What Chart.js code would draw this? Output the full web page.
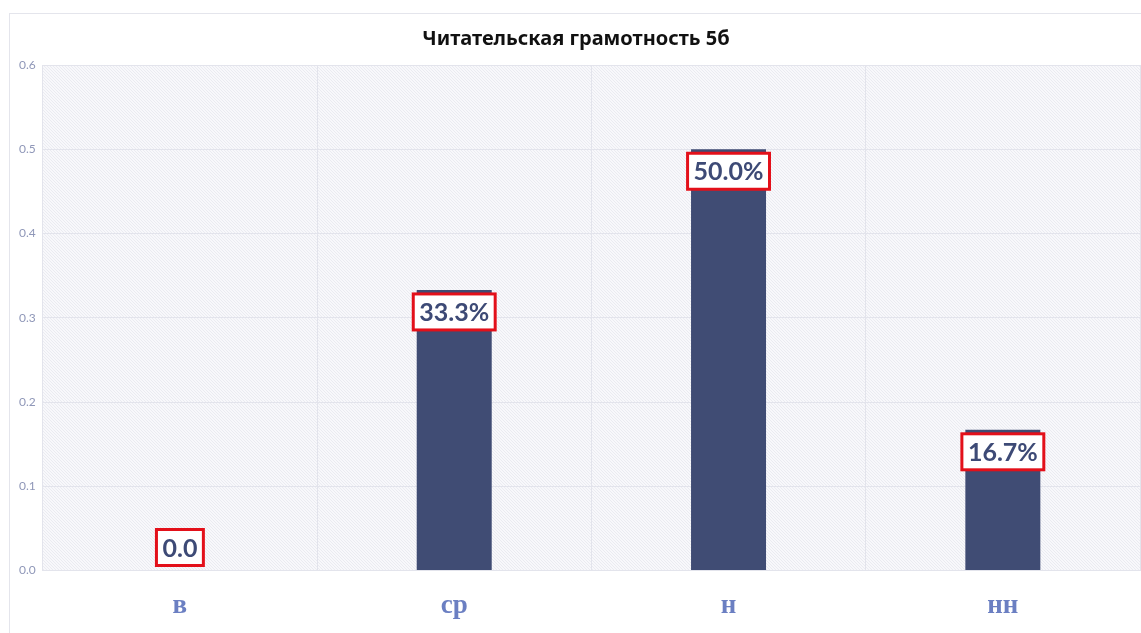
<!DOCTYPE html>
<html>
<head>
<meta charset="utf-8">
<script src="https://cdn.jsdelivr.net/npm/chart.js@4"></script>
<style>
  body { margin: 0; background: #fff; overflow: hidden; }
  #card { position: absolute; left: 9px; top: 13px; width: 1140px; height: 630px; border: 1px solid #e4e5ec; box-sizing: border-box; }
  #wrap { position: absolute; left: 0; top: 0; width: 1138px; height: 628px; }
</style>
</head>
<body>
<div id="card"><div id="wrap"><canvas id="myBarChart"></canvas></div></div>
<script>
var categories = ["в", "ср", "н", "нн"];
var shares = [0, 0.333, 0.5, 0.167];
var shareLabels = ["0.0", "33.3%", "50.0%", "16.7%"];
var yTicks = [0, 0.1, 0.2, 0.3, 0.4, 0.5, 0.6];

// diagonal hatch for the plot background
function hatchPattern(ctx) {
  var c = document.createElement("canvas");
  c.width = 3;
  c.height = 3;
  var p = c.getContext("2d");
  p.fillStyle = "#f8f8fb";
  p.fillRect(0, 0, 3, 3);
  p.fillStyle = "#eaebf1";
  p.fillRect(0, 0, 1, 1);
  p.fillRect(1, 1, 1, 1);
  p.fillRect(2, 2, 1, 1);
  return ctx.createPattern(c, "repeat");
}

const plotBackground = {
  id: "plotBackground",
  beforeDraw(chart) {
    const a = chart.chartArea;
    const ctx = chart.ctx;
    ctx.save();
    ctx.fillStyle = hatchPattern(ctx);
    ctx.fillRect(a.left, a.top, a.right - a.left, a.bottom - a.top);
    ctx.restore();
  },
};

// boxed value labels on top of the bars
const boxLabels = {
  id: "boxLabels",
  afterDatasetsDraw(chart) {
    const ctx = chart.ctx;
    const meta = chart.getDatasetMeta(0);
    const base = chart.scales.y.getPixelForValue(0);
    ctx.save();
    ctx.font = "bold 25px Lato";
    ctx.textAlign = "center";
    ctx.textBaseline = "middle";
    meta.data.forEach(function (bar, i) {
      var text = shareLabels[i];
      var w = ctx.measureText(text).width + 12;
      var h = 36;
      var top = bar.y + 4;
      if (top + h > base - 5) top = base - 5 - h;
      ctx.fillStyle = "#ffffff";
      ctx.fillRect(bar.x - w / 2, top, w, h);
      ctx.strokeStyle = "#e3101a";
      ctx.lineWidth = 3;
      ctx.strokeRect(bar.x - w / 2, top, w, h);
      ctx.fillStyle = "#3d4a76";
      ctx.fillText(text, bar.x, top + h / 2 + 1);
    });
    ctx.restore();
  },
};

const ctx = document.getElementById("myBarChart").getContext("2d");
const myChart = new Chart(ctx, {
  type: "bar",
  data: {
    labels: categories,
    datasets: [
      {
        data: shares,
        backgroundColor: "#404c74",
        barThickness: 75,
        inflateAmount: 0,
      },
    ],
  },
  options: {
    responsive: true,
    maintainAspectRatio: false,
    animation: false,
    layout: { padding: { left: 2, right: 8, top: 9, bottom: 0 } },
    plugins: {
      legend: { display: false },
      tooltip: { enabled: false },
      title: {
        display: true,
        text: "Читательская грамотность 5б",
        color: "#111111",
        font: { family: "Noto Sans", size: 20, weight: "bold" },
        padding: { top: 4, bottom: 14 },
      },
    },
    scales: {
      x: {
        grid: { color: "#e3e4ec", drawTicks: false },
        border: { display: false },
        ticks: {
          color: "#6b7fc2",
          padding: 29,
          font: { family: "Liberation Serif", size: 27, weight: "bold", lineHeight: 0.5 },
        },
      },
      y: {
        min: 0,
        max: 0.6,
        afterBuildTicks: function (axis) {
          axis.ticks = yTicks.map(function (v) { return { value: v }; });
        },
        grid: { color: "#e3e4ec", drawTicks: false },
        border: { display: false },
        ticks: {
          color: "#8f97b8",
          padding: 7,
          font: { family: "Lato", size: 12 },
          callback: function (v) { return v.toFixed(1); },
        },
      },
    },
  },
  plugins: [plotBackground, boxLabels],
});
</script>
</body>
</html>
